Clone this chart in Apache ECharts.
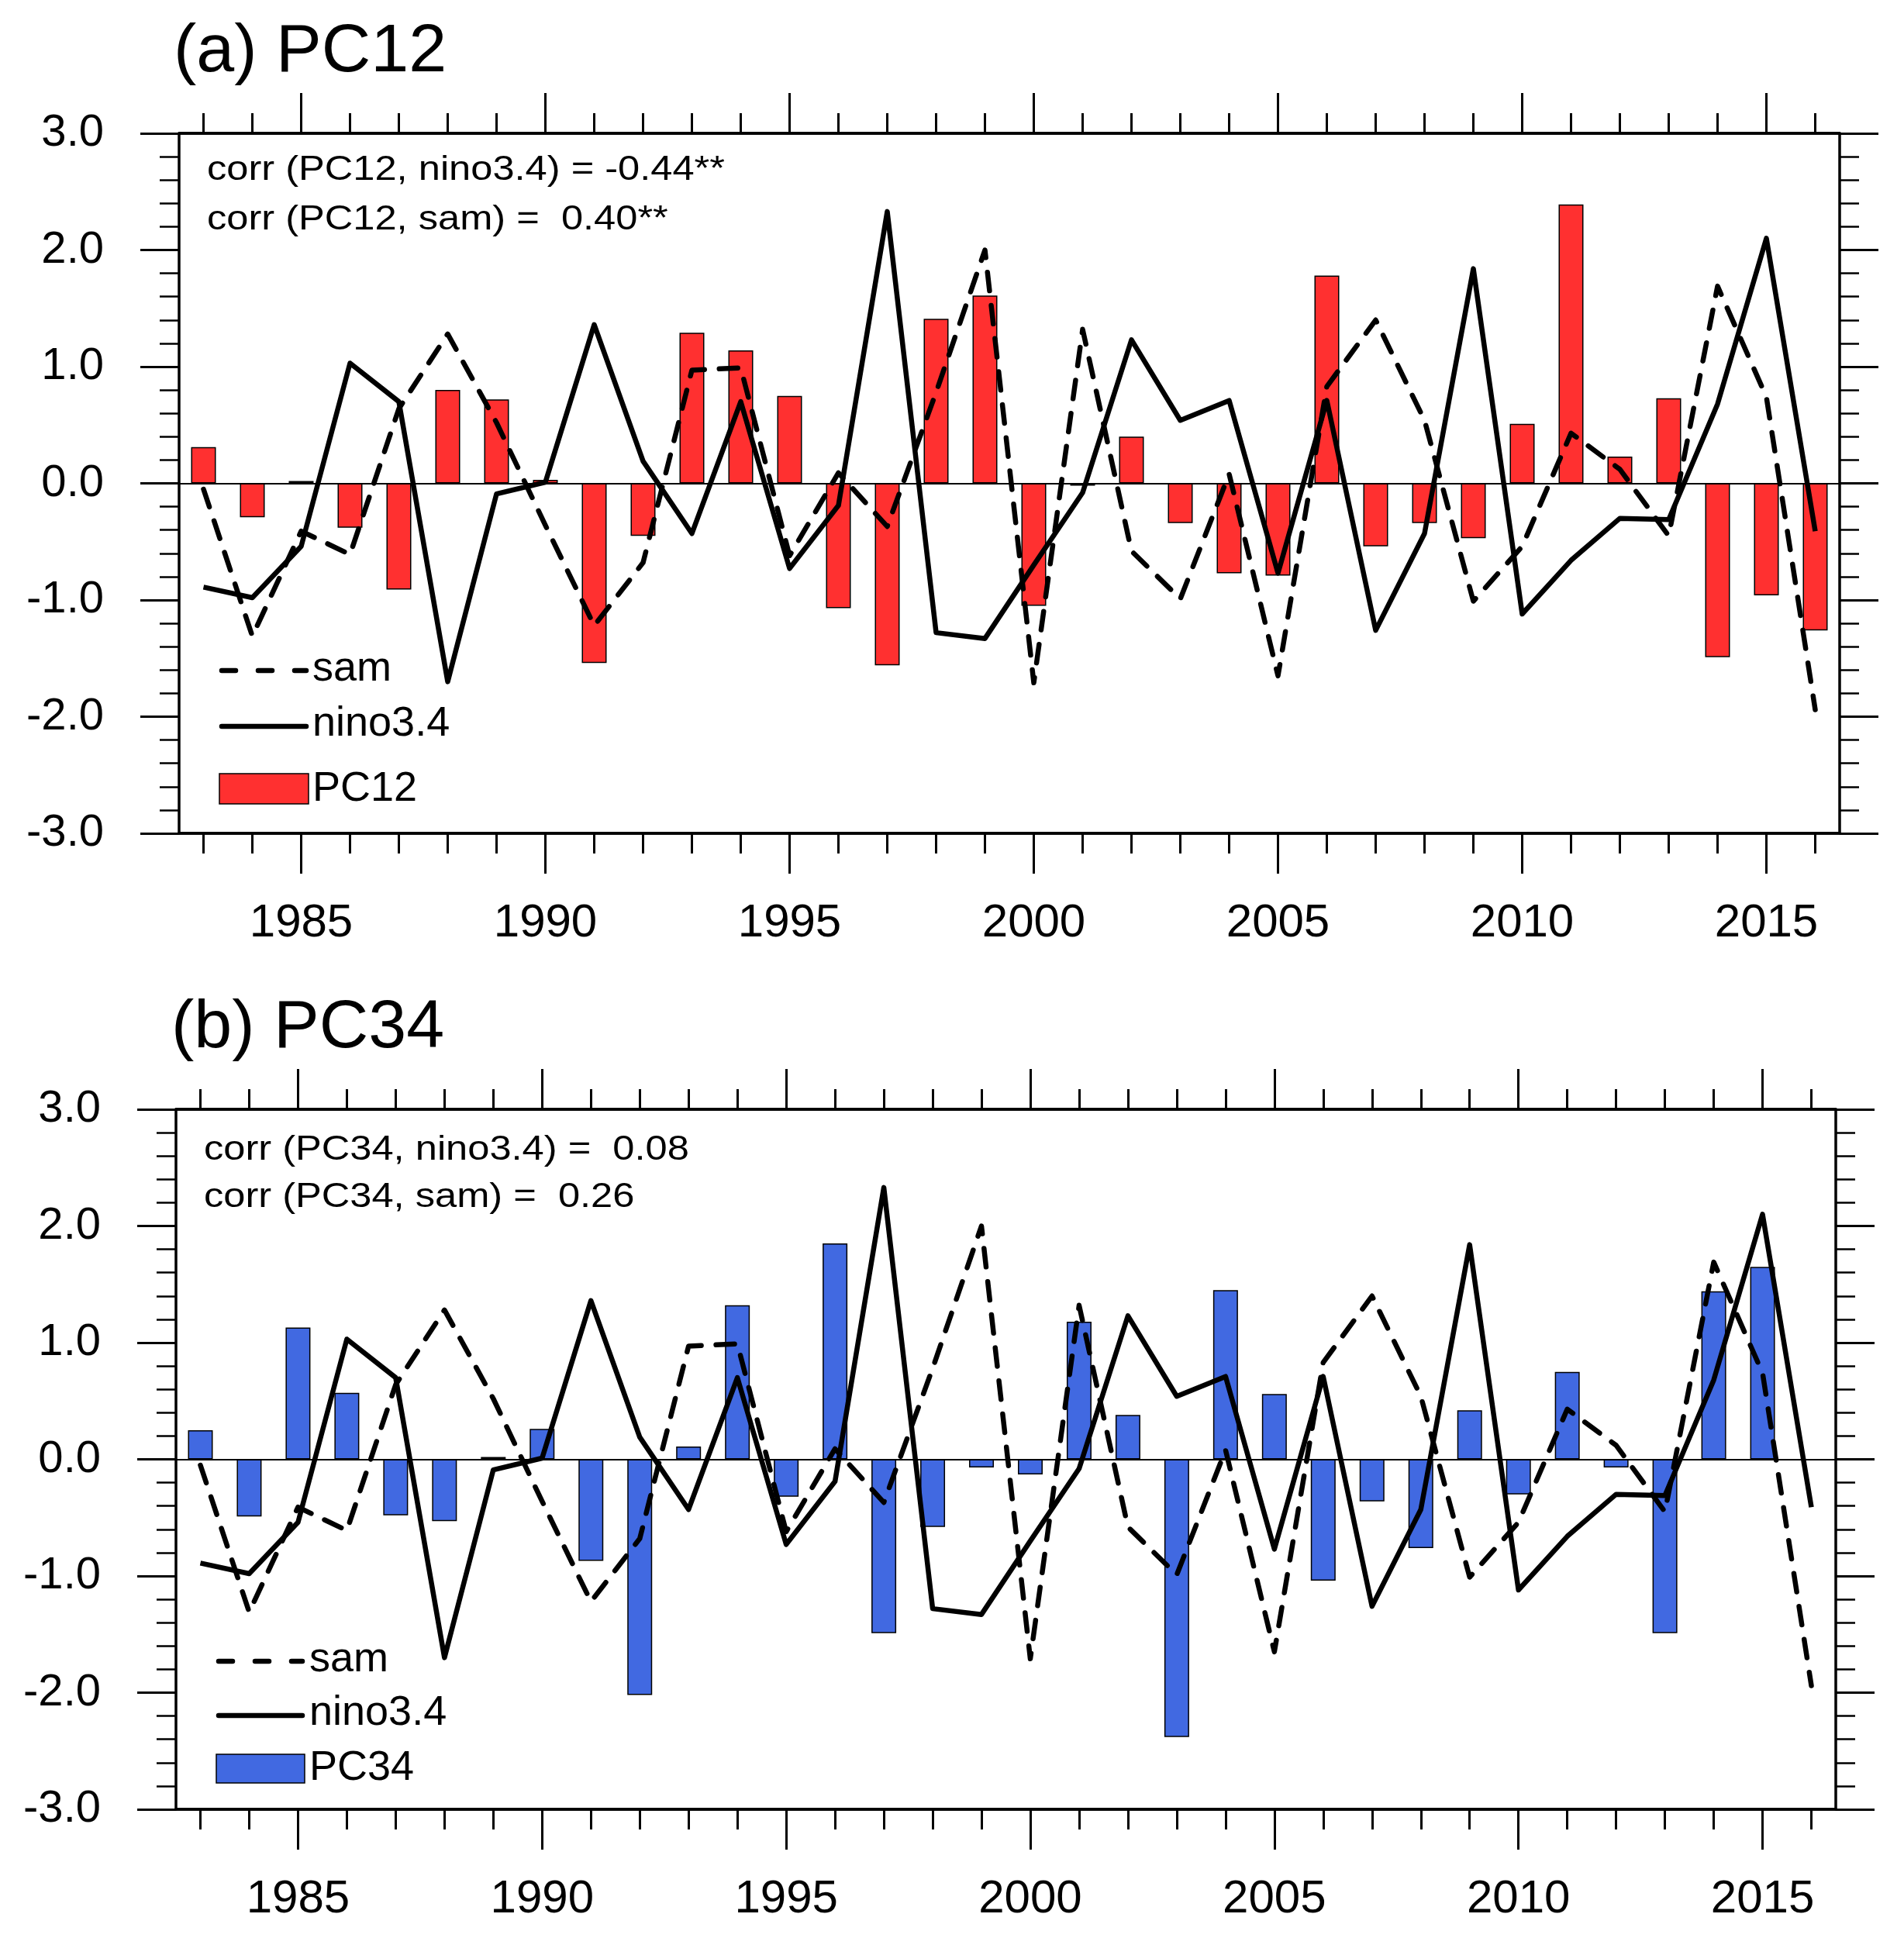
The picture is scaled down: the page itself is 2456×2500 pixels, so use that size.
<!DOCTYPE html>
<html>
<head>
<meta charset="utf-8">
<title>PC12 / PC34 time series</title>
<script src="https://cdn.jsdelivr.net/npm/echarts@6.0.0/dist/echarts.min.js"></script>
<style>
  html, body { margin: 0; padding: 0; background: #fff; }
  #chart { width: 2456px; height: 2500px; }
</style>
</head>
<body>
<div id="chart"></div>
<script>
// data, one value per year
var years = ['1983', '1984', '1985', '1986', '1987', '1988', '1989', '1990', '1991', '1992',
             '1993', '1994', '1995', '1996', '1997', '1998', '1999', '2000', '2001', '2002',
             '2003', '2004', '2005', '2006', '2007', '2008', '2009', '2010', '2011', '2012',
             '2013', '2014', '2015', '2016'];

var pc12 = [0.31, -0.29, 0.02, -0.38, -0.91, 0.80, 0.72, 0.03, -1.54, -0.45,
            1.29, 1.14, 0.75, -1.07, -1.56, 1.41, 1.61, -1.05, -0.02, 0.40,
            -0.34, -0.77, -0.79, 1.78, -0.54, -0.34, -0.47, 0.51, 2.39, 0.23,
            0.73, -1.49, -0.96, -1.26];

var pc34 = [0.25, -0.49, 1.13, 0.57, -0.48, -0.53, 0.02, 0.26, -0.87, -2.02,
            0.11, 1.32, -0.32, 1.85, -1.49, -0.58, -0.07, -0.13, 1.18, 0.38,
            -2.38, 1.45, 0.56, -1.04, -0.36, -0.76, 0.42, -0.30, 0.75, -0.07,
            -1.49, 1.44, 1.65, -0.01];

var sam = [-0.05, -1.31, -0.41, -0.61, 0.64, 1.28, 0.52, -0.36, -1.22, -0.68,
           0.97, 0.99, -0.62, 0.09, -0.37, 0.78, 2.00, -1.71, 1.32, -0.58,
           -0.99, 0.08, -1.65, 0.83, 1.40, 0.54, -1.01, -0.54, 0.43, 0.12,
           -0.45, 1.69, 0.74, -1.94];

var nino = [-0.89, -0.98, -0.54, 1.03, 0.70, -1.70, -0.09, 0.01, 1.36, 0.19,
            -0.43, 0.70, -0.73, -0.19, 2.33, -1.28, -1.33, -0.70, -0.08, 1.23,
            0.54, 0.71, -0.77, 0.71, -1.26, -0.43, 1.84, -1.12, -0.66, -0.30,
            -0.31, 0.68, 2.10, -0.41];

var panelTitles = ['(a) PC12', '(b) PC34'];
var barNames = ['PC12', 'PC34'];
var corrLines = [
  ['corr (PC12, nino3.4) = -0.44**', 'corr (PC12, sam) =  0.40**'],
  ['corr (PC34, nino3.4) =  0.08', 'corr (PC34, sam) =  0.26']
];

var FONT = 'Liberation Sans';
var RED = '#ff3030';
var BLUE = '#4169e1';
var DASH = [24, 19];

var chart = echarts.init(document.getElementById('chart'));

var grids = [
  {left: 231, top: 172, width: 2142, height: 903},
  {left: 227, top: 1431, width: 2141, height: 903}
];

function everyFive(i, v) {
  return (+v) % 5 === 0;
}

function makeX(gi, pos, major, labels) {
  return {
    type: 'category',
    gridIndex: gi,
    position: pos,
    data: years,
    boundaryGap: true,
    axisLine: {show: true, onZero: false, lineStyle: {color: '#000', width: 3.5}},
    axisTick: {
      show: true,
      alignWithLabel: true,
      interval: major ? everyFive : 0,
      length: major ? 52 : 26,
      lineStyle: {color: '#000', width: 3}
    },
    axisLabel: {
      show: labels,
      interval: everyFive,
      margin: 86,
      color: '#000',
      fontSize: 60,
      fontFamily: FONT
    },
    splitLine: {show: false}
  };
}

function makeY(gi, pos, labels) {
  return {
    type: 'value',
    gridIndex: gi,
    position: pos,
    min: -3,
    max: 3,
    interval: 1,
    axisLine: {show: true, onZero: false, lineStyle: {color: '#000', width: 3.5}},
    axisTick: {show: true, length: 50, lineStyle: {color: '#000', width: 3}},
    minorTick: {show: true, splitNumber: 5, length: 25, lineStyle: {color: '#000', width: 2.5}},
    axisLabel: {
      show: labels,
      margin: 97,
      color: '#000',
      fontSize: 58,
      fontFamily: FONT,
      formatter: function (v) { return v.toFixed(1); }
    },
    splitLine: {show: false},
    minorSplitLine: {show: false}
  };
}

var xAxes = [], yAxes = [], series = [], graphic = [];

[pc12, pc34].forEach(function (pc, gi) {
  xAxes.push(makeX(gi, 'bottom', false, false));
  xAxes.push(makeX(gi, 'bottom', true, true));
  xAxes.push(makeX(gi, 'top', false, false));
  xAxes.push(makeX(gi, 'top', true, false));
  yAxes.push(makeY(gi, 'left', true));
  yAxes.push(makeY(gi, 'right', false));

  var xi = gi * 4, yi = gi * 2;
  series.push({
    name: barNames[gi],
    type: 'bar',
    xAxisIndex: xi,
    yAxisIndex: yi,
    barWidth: 32,
    data: pc,
    itemStyle: {color: gi === 0 ? RED : BLUE, borderColor: '#000', borderWidth: 1.5},
    markLine: {
      silent: true,
      symbol: 'none',
      label: {show: false},
      lineStyle: {color: '#000', width: 2, type: 'solid'},
      data: [{yAxis: 0}]
    }
  });
  series.push({
    name: 'sam',
    type: 'line',
    xAxisIndex: xi,
    yAxisIndex: yi,
    data: sam,
    symbol: 'none',
    z: 4,
    lineStyle: {color: '#000', width: 6.5, type: DASH, cap: 'round', join: 'round'}
  });
  series.push({
    name: 'nino3.4',
    type: 'line',
    xAxisIndex: xi,
    yAxisIndex: yi,
    data: nino,
    symbol: 'none',
    z: 4,
    lineStyle: {color: '#000', width: 6.5, type: 'solid', join: 'round'}
  });
});

// titles, correlation notes and legend keys
var titlePos = [[224, 68], [221, 1327]];
var corrPos = [[267, 220, 284], [263, 1484, 1545]];
var legPos = [
  {x0: 283, x1: 398, ySam: 865, yNino: 937, boxTop: 998, boxBot: 1037, tx: 403},
  {x0: 279, x1: 393, ySam: 2143, yNino: 2213, boxTop: 2263, boxBot: 2300, tx: 399}
];

function txt(s, x, y, size, sx) {
  return {
    type: 'text', x: x, y: y, scaleX: sx || 1, silent: true,
    style: {text: s, fill: '#000', fontSize: size, fontFamily: FONT, verticalAlign: 'middle', align: 'left'}
  };
}

for (var gi = 0; gi < 2; gi++) {
  graphic.push(txt(panelTitles[gi], titlePos[gi][0], titlePos[gi][1], 88));
  graphic.push(txt(corrLines[gi][0], corrPos[gi][0], corrPos[gi][1], 44, 1.15));
  graphic.push(txt(corrLines[gi][1], corrPos[gi][0], corrPos[gi][2], 44, 1.15));
  var L = legPos[gi];
  graphic.push({
    type: 'line', silent: true,
    shape: {x1: L.x0 + 3, y1: L.ySam, x2: L.x1 - 3, y2: L.ySam},
    style: {stroke: '#000', lineWidth: 6.5, lineDash: [18, 29], lineCap: 'round'}
  });
  graphic.push({
    type: 'line', silent: true,
    shape: {x1: L.x0 + 3, y1: L.yNino, x2: L.x1 - 3, y2: L.yNino},
    style: {stroke: '#000', lineWidth: 6.5, lineCap: 'round'}
  });
  graphic.push({
    type: 'rect', silent: true,
    shape: {x: L.x0, y: L.boxTop, width: L.x1 - L.x0, height: L.boxBot - L.boxTop},
    style: {fill: gi === 0 ? RED : BLUE, stroke: '#000', lineWidth: 1.5}
  });
  graphic.push(txt('sam', L.tx, L.ySam - 2, 54));
  graphic.push(txt('nino3.4', L.tx, L.yNino - 3, 54));
  graphic.push(txt(barNames[gi], L.tx, L.boxBot - 19, 54));
}

var option = {
  backgroundColor: '#fff',
  animation: false,
  grid: grids.map(function (g) {
    return {left: g.left, top: g.top, width: g.width, height: g.height, containLabel: false, outerBoundsMode: 'none'};
  }),
  xAxis: xAxes,
  yAxis: yAxes,
  series: series,
  graphic: graphic
};

chart.setOption(option);
</script>
</body>
</html>
